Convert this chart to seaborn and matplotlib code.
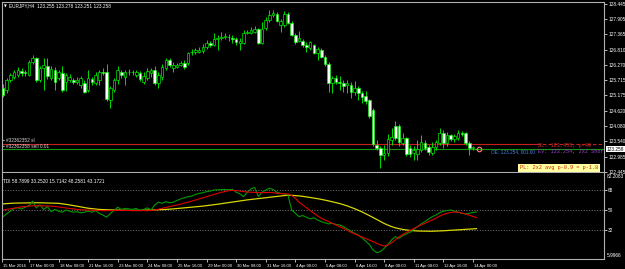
import matplotlib
matplotlib.use("Agg")
import matplotlib.pyplot as plt
import matplotlib.transforms as mtransforms
import seaborn as sns
import pandas as pd

# ---------------- data ----------------
opens = [125.44, 125.37, 125.73, 125.83, 125.91, 126.05, 126.01, 125.91, 126.37, 126.51,
         125.73, 126.16, 126.23, 125.80, 126.08, 125.80, 125.98, 125.66, 125.73, 125.73,
         125.66, 125.55, 125.62, 125.37, 125.76, 125.62, 125.73, 126.01, 126.01, 125.01,
         125.37, 125.73, 126.01, 125.83, 126.01, 126.00, 125.91, 125.98, 125.66, 125.80,
         125.98, 126.08, 125.62, 125.83, 126.16, 126.44, 126.16, 126.19, 126.26, 126.33,
         126.33, 126.71, 126.73, 126.73, 126.76, 126.91, 127.05, 126.98, 127.19, 127.23,
         127.27, 127.25, 127.23, 127.19, 127.05, 127.05, 127.41, 127.41, 127.44, 127.55,
         127.05, 127.59, 127.87, 128.05, 128.09, 127.69, 127.69, 128.09, 127.77, 127.34,
         127.12, 127.12, 126.98, 126.87, 126.98, 126.69, 126.80, 126.55, 126.30, 125.62,
         125.80, 125.66, 125.62, 125.55, 125.55, 125.30, 125.44, 125.26, 125.15, 125.01,
         124.65, 123.40, 123.29, 123.04, 123.11, 123.58, 124.08, 124.08, 123.47, 123.65,
         123.29, 123.11, 123.08, 123.22, 123.47, 123.33, 123.11, 123.33, 123.47, 123.83,
         123.47, 123.76, 123.62, 123.65, 123.83, 123.83, 123.47, 123.31, 123.255]
closes = [125.19, 125.73, 125.91, 126.01, 126.08, 125.98, 125.98, 126.37, 126.51, 125.73,
          126.16, 126.26, 125.87, 126.12, 125.66, 126.01, 125.37, 125.91, 125.83, 125.66,
          125.73, 125.80, 125.30, 125.80, 125.66, 125.91, 126.01, 125.98, 125.05, 125.44,
          125.73, 126.08, 125.91, 126.01, 126.00, 126.01, 126.01, 125.76, 125.87, 126.05,
          126.08, 125.62, 125.91, 126.19, 126.44, 126.26, 126.26, 126.26, 126.33, 126.19,
          126.69, 126.73, 126.80, 126.80, 126.91, 127.05, 126.98, 127.19, 127.23, 127.27,
          127.30, 127.27, 127.19, 127.09, 127.12, 127.41, 127.44, 127.52, 127.55, 127.05,
          127.55, 127.87, 128.05, 128.12, 127.84, 127.84, 128.09, 127.77, 127.34, 127.09,
          127.23, 126.98, 126.91, 127.09, 126.69, 126.84, 126.55, 126.30, 125.62, 125.80,
          125.66, 125.62, 125.51, 125.62, 125.30, 125.44, 125.26, 125.12, 124.98, 124.44,
          123.44, 123.29, 123.04, 123.11, 123.62, 123.69, 123.65, 123.51, 123.65, 123.08,
          123.08, 123.22, 123.26, 123.51, 123.29, 123.15, 123.33, 123.51, 123.83, 123.47,
          123.76, 123.62, 123.72, 123.83, 123.80, 123.47, 123.29, 123.33, 123.258]
highs = [125.58, 125.80, 125.98, 126.08, 126.19, 126.16, 126.08, 126.44, 126.62, 126.55,
         126.23, 126.51, 126.51, 126.23, 126.19, 126.08, 126.23, 125.98, 125.94, 125.80,
         125.83, 125.87, 125.73, 126.08, 125.83, 126.01, 126.08, 126.16, 126.30, 125.51,
         125.80, 126.23, 126.08, 126.08, 126.12, 126.08, 126.08, 126.05, 126.01, 126.16,
         126.16, 126.23, 126.01, 126.30, 126.51, 126.51, 126.37, 126.33, 126.41, 126.44,
         126.73, 126.84, 126.87, 126.91, 127.01, 127.16, 127.12, 127.41, 127.34, 127.44,
         127.41, 127.37, 127.34, 127.27, 127.23, 127.52, 127.52, 127.62, 127.66, 127.59,
         127.80, 127.98, 128.23, 128.23, 128.16, 127.91, 128.19, 128.16, 127.84, 127.41,
         127.48, 127.19, 127.09, 127.12, 127.01, 126.91, 126.87, 126.62, 126.37, 125.87,
         125.91, 125.87, 125.73, 125.73, 125.66, 125.69, 125.51, 125.33, 125.33, 125.05,
         124.72, 123.58, 123.37, 123.40, 123.80, 124.01, 124.26, 124.15, 123.83, 123.69,
         123.40, 123.37, 123.58, 123.76, 123.58, 123.40, 123.51, 123.58, 124.01, 123.94,
         123.87, 123.80, 123.80, 123.94, 123.90, 123.87, 123.54, 123.37, 123.278]
lows = [125.12, 125.26, 125.66, 125.76, 125.83, 125.87, 125.87, 125.87, 126.30, 125.66,
        125.66, 125.37, 125.76, 125.73, 125.37, 125.73, 125.30, 125.33, 125.66, 125.58,
        125.58, 125.44, 125.26, 125.30, 125.55, 125.55, 125.55, 125.91, 124.98, 124.72,
        125.30, 125.58, 125.80, 125.55, 125.91, 125.91, 125.83, 125.69, 125.58, 125.73,
        125.83, 125.55, 125.44, 125.73, 126.08, 126.19, 126.01, 126.16, 126.23, 126.12,
        126.26, 126.62, 126.66, 126.69, 126.69, 126.84, 126.91, 126.94, 126.80, 127.16,
        127.19, 127.12, 127.05, 126.98, 126.80, 127.01, 127.37, 127.37, 127.41, 127.01,
        127.01, 127.52, 127.80, 127.98, 127.80, 127.44, 127.62, 127.73, 127.30, 127.01,
        127.09, 126.91, 126.73, 126.80, 126.66, 126.44, 126.51, 126.23, 125.30, 125.26,
        125.58, 125.37, 125.30, 125.26, 125.08, 125.19, 125.01, 124.90, 124.87, 124.37,
        123.37, 123.22, 122.58, 122.87, 123.01, 123.40, 123.58, 123.37, 123.40, 123.01,
        122.97, 122.87, 122.87, 123.15, 123.22, 123.04, 123.04, 123.22, 123.40, 123.29,
        123.37, 123.54, 123.51, 123.58, 123.72, 123.40, 123.04, 123.22, 123.251]

tdi_yellow = [55.5, 55.8, 56.0, 56.2, 56.3, 56.3, 56.4, 56.4, 56.5, 56.5, 56.5, 56.4, 56.4, 56.3, 56.2, 56.0,
              55.6, 55.1, 54.6, 54.0, 53.4, 52.8, 52.2, 51.6, 51.2, 50.8, 50.5,
              50.3, 50.2, 50.1, 50.0, 49.9, 49.8, 49.8, 49.7, 49.7, 49.7, 49.7, 49.8, 49.8, 49.9, 50.0, 50.1, 50.3, 50.5, 50.7,
              51.0, 51.3, 51.6, 51.9, 52.2, 52.5, 52.8, 53.1,
              53.5, 53.9, 54.3, 54.7, 55.2, 55.7, 56.2, 56.7, 57.3,
              57.8, 58.3, 58.7, 59.1, 59.5, 59.9, 60.3, 60.7, 61.1,
              61.5, 61.9, 62.3, 62.7, 63.0, 63.2, 63.2, 63.0, 62.7,
              62.3, 61.8, 61.3, 60.8, 60.2, 59.6, 58.9, 58.2, 57.4, 56.6, 55.8,
              54.8, 53.7, 52.5, 51.2, 49.8, 48.3, 46.7, 45.0, 43.2, 41.4,
              39.6, 37.9, 36.4, 35.1, 34.0, 33.2,
              32.5, 32.0, 31.6, 31.3, 31.1, 31.0, 30.9, 30.9, 30.9, 31.0, 31.1,
              31.3, 31.5, 31.7, 31.9, 32.1, 32.4, 32.6, 32.8, 33.0, 33.25]
tdi_red = [50.0, 50.5, 51.0, 51.6, 52.2, 52.8, 53.2, 53.6,
           53.8, 53.9, 53.8, 53.7, 53.6, 53.5,
           53.2, 52.8, 52.3, 51.8, 51.3, 50.9, 50.5, 50.2, 50.1,
           50.0, 49.9, 49.7, 49.5, 49.4, 49.4, 49.5, 49.6, 49.7, 49.7, 49.6, 49.5, 49.4, 49.4, 49.5, 49.5, 49.4, 49.5,
           50.0, 50.7, 51.5, 52.3, 53.0, 53.7, 54.5, 55.3, 56.0,
           57.0, 58.0, 59.0, 60.0, 61.0, 62.0,
           63.0, 64.0, 65.0, 65.9, 66.7, 67.4,
           67.6, 67.5, 67.0, 66.5, 66.2, 66.0, 65.8, 65.6,
           65.6, 65.7, 65.8, 65.6, 65.0, 64.8, 64.6, 64.4,
           63.0, 60.5, 57.0, 54.5, 52.0, 49.5, 47.0, 44.8, 42.5,
           41.0, 39.5, 38.0, 36.5, 35.0, 33.5, 31.8, 30.0,
           28.6, 27.2, 25.8, 24.5, 23.0, 21.5, 20.0, 18.6, 17.6,
           18.5, 20.5, 23.0, 25.8,
           27.8, 29.8, 31.6, 33.3, 35.0, 36.5, 38.0, 39.5, 41.0, 42.6, 44.6,
           46.0, 47.0, 47.8, 48.2, 48.0, 47.3, 46.4, 45.3, 44.2, 43.17]
tdi_green = [44.0, 46.5, 49.0, 51.5, 52.0, 51.0, 52.5, 53.6, 58.0,
             52.0, 54.5, 50.5, 53.0, 48.5, 50.5, 49.0,
             48.0, 50.0, 49.0, 48.0, 48.5, 47.5, 48.0, 49.0, 48.0, 49.5, 47.0, 45.5,
             43.4, 47.0, 49.5, 52.5, 50.5, 51.5,
             51.0, 50.5, 51.5, 49.5, 50.5, 52.0, 50.0, 54.5,
             57.0, 56.0, 57.5, 56.5, 57.0, 58.5, 60.0, 61.0,
             62.0, 62.5, 64.0, 65.0, 65.5, 66.5, 67.0, 68.0,
             68.2, 68.4, 68.5, 68.3, 68.6, 66.0, 64.5,
             62.0, 66.0, 69.0, 70.4, 62.0, 66.0,
             68.0, 69.5, 68.5, 66.0, 65.0, 64.5, 63.5,
             50.0, 47.0, 44.0, 45.0, 43.5, 42.0, 43.0, 41.0, 39.5,
             38.5, 37.5, 38.0, 37.0, 36.5, 35.0, 33.0, 31.0, 29.0, 27.5,
             25.0, 22.0, 19.0, 14.0, 11.6,
             12.5, 15.5, 19.0, 23.0, 26.0, 24.5, 27.0, 28.5, 30.0,
             32.5, 35.0, 37.5, 39.5, 42.0, 44.0, 45.5,
             47.5, 49.0, 49.5, 50.0, 49.0, 48.0, 47.0, 46.4, 47.0, 47.8, 48.26]

price_ticks = [128.445, 127.905, 127.365, 126.810, 126.270, 125.715, 125.175,
               124.620, 124.080, 123.540, 122.985, 122.445]
time_labels = ["15 Mar 2016", "17 Mar 00:00", "18 Mar 08:00", "21 Mar 16:00", "23 Mar 00:00",
               "24 Mar 08:00", "25 Mar 16:00", "29 Mar 00:00", "30 Mar 08:00", "31 Mar 16:00",
               "4 Apr 00:00", "5 Apr 08:00", "6 Apr 16:00", "8 Apr 00:00", "11 Apr 08:00",
               "12 Apr 16:00", "14 Apr 00:00"]
tdi_levels = [68, 50, 32]
tdi_range = [5.9966, 82.2083]
sl_price = 123.455
open_price = 123.254
bid_price = 123.258
title_text = "EURJPY,H4  123.255 123.278 123.251 123.258"
tdi_text = "TDI 58.7899 33.2520 15.7142 48.2581 43.1721"

# ---------------- style ----------------
sns.set_theme(style="dark")
plt.rcParams['font.family'] = ['Liberation Sans', 'DejaVu Sans']
FS = 3.4
FSX = 2.95
BORDER = '#b0b0b0'

fig = plt.figure(figsize=(6.25, 2.69), dpi=100, facecolor='black')
W, H = 625.0, 269.0
ax1 = fig.add_axes([2 / W, (H - 172) / H, 602 / W, 170 / H])
ax2 = fig.add_axes([2 / W, (H - 259) / H, 602 / W, 86 / H], sharex=ax1)

for ax in (ax1, ax2):
    ax.set_facecolor('black')
    ax.grid(False)
    for s in ax.spines.values():
        s.set_visible(True)
        s.set_color(BORDER)
        s.set_linewidth(0.8)
ax2.spines['top'].set_visible(False)

n = len(closes)
idx = list(range(n))
df = pd.DataFrame({'bar': idx, 'open': opens, 'high': highs, 'low': lows, 'close': closes,
                   'yellow': tdi_yellow, 'red': tdi_red, 'green': tdi_green})

# ---------------- candles ----------------
ax1.vlines(df['bar'], df['low'], df['high'], color='#00ff00', linewidth=0.6, zorder=2)
bottoms = [min(o, c) for o, c in zip(opens, closes)]
heights = [max(abs(c - o), 0.012) for o, c in zip(opens, closes)]
faces = ['black' if c > o else 'white' for o, c in zip(opens, closes)]
ax1.bar(df['bar'], heights, bottom=bottoms, width=0.7, color=faces,
        edgecolor='#00ff00', linewidth=0.45, zorder=3)

ax1.set_xlim(-0.27, 162.4)
ax1.set_ylim(122.436, 128.516)

# order lines
sl_split = 144.3
ax1.plot([-0.27, sl_split], [sl_price, sl_price], color='#c81e1e', lw=0.8, zorder=1)
ax1.plot([sl_split, 162.4], [sl_price, sl_price], color='#c81e1e', lw=0.8, ls=(0, (3, 2)), zorder=1)
ax1.axhline(open_price, color='#119911', lw=0.8, zorder=1)
ax1.plot([128.7], [open_price + 0.02], marker='o', ms=3.2, mfc='none', mec='#ff7070', mew=0.9, zorder=4)

# right price axis
ax1.yaxis.tick_right()
ax1.set_yticks(price_ticks)
ax1.set_yticklabels([f"{v:.3f}" for v in price_ticks])
ax1.tick_params(axis='y', colors='white', labelsize=FS, length=2, width=0.5, pad=1, direction='out')
ax1.tick_params(axis='x', bottom=False, labelbottom=False)

# price box
ytr = ax1.get_yaxis_transform()
ax1.text(1.004, bid_price, f"{bid_price:.3f}", transform=ytr, fontsize=FS, color='black',
         va='center', ha='left', bbox=dict(boxstyle='square,pad=0.15', fc='white', ec='none'),
         clip_on=False, zorder=6)

# texts in main panel
ax1.text(0.003, 0.975, "\u25bc", transform=ax1.transAxes, fontsize=2.6, color='white',
         va='center', ha='left', family=['DejaVu Sans'])
ax1.text(0.011, 0.975, title_text, transform=ax1.transAxes, fontsize=FS, color='white',
         va='center', ha='left')
ax1.text(0.002, sl_price + 0.1, "\u25aa #32362352 sl", fontsize=FS, color='#d8d8d8', va='center', ha='left',
         transform=ytr, family=['Liberation Sans', 'DejaVu Sans'])
ax1.text(0.002, open_price + 0.1, "\u25aa #32362358 sell 0.01", fontsize=FS, color='#d8d8d8', va='center',
         ha='left', transform=ytr, family=['Liberation Sans', 'DejaVu Sans'])

ax1.text(131.8, open_price - 0.1, "OE: 123.254, 001.00", fontsize=FS, color='#4a86e8', va='center', ha='left')
ax1.text(144.5, sl_price - 0.08, "SL: 123.455, p-40", fontsize=3.7, color='#d03030', va='center', ha='left',
         family=['Liberation Mono'], clip_on=True)
ax1.text(144.5, open_price - 0.1, "EV: 123.254, 2x2 Short", fontsize=3.7, color='#a040d0', va='center',
         ha='left', family=['Liberation Mono'], clip_on=True)
ax1.text(139.6, 122.58, "PL: 2x2 avg p-0.9 = p-1.8", fontsize=3.8, color='#cc2200', va='center', ha='left',
         family=['Liberation Mono'], clip_on=True,
         bbox=dict(boxstyle='square,pad=0.35', fc='#ffffa0', ec='none'))

# ---------------- TDI ----------------
sns.lineplot(data=df, x='bar', y='yellow', ax=ax2, color='#d8d800', lw=0.9, legend=False)
sns.lineplot(data=df, x='bar', y='green', ax=ax2, color='#009a00', lw=0.8, legend=False)
sns.lineplot(data=df, x='bar', y='red', ax=ax2, color='#e00000', lw=0.8, legend=False)
for lv in tdi_levels:
    ax2.axhline(lv, color='#8a8a8a', lw=0.6, ls=(0, (1.2, 2)), zorder=0)
ax2.set_ylim(5.9, 83.3)
ax2.set_xlabel('')
ax2.set_ylabel('')
ax1.set_ylabel('')
ax2.yaxis.tick_right()
ax2.set_yticks(tdi_levels)
ax2.set_yticklabels([str(v) for v in tdi_levels])
ax2.tick_params(axis='y', colors='white', labelsize=FS, length=2, width=0.5, pad=1)
ytr2 = ax2.get_yaxis_transform()
ax2.text(1.004, 80.2, f"{tdi_range[1]:.4f}", transform=ytr2, fontsize=FS, color='white', va='center',
         ha='left', clip_on=False)
ax2.text(1.004, 8.9, f"{tdi_range[0]:.4f}", transform=ytr2, fontsize=FS, color='white', va='center',
         ha='left', clip_on=False)
ax2.text(0.002, 0.9, tdi_text, transform=ax2.transAxes, fontsize=FS, color='white', va='center', ha='left')

# time axis
tick_pos = [-0.2] + [8 * k - 1 for k in range(1, len(time_labels))]
ax2.set_xticks(tick_pos)
ax2.set_xticklabels(time_labels)
ax2.tick_params(axis='x', colors='white', labelsize=FSX, length=2, width=0.5, pad=1.5, bottom=True,
                labelbottom=True)
offset = mtransforms.ScaledTranslation(1.0 / 100, 0, fig.dpi_scale_trans)
for lab in ax2.get_xticklabels():
    lab.set_ha('left')
    lab.set_transform(lab.get_transform() + offset)
ax2.set_xlim(-0.27, 162.4)

fig.savefig('out.png', dpi=100, facecolor='black')
